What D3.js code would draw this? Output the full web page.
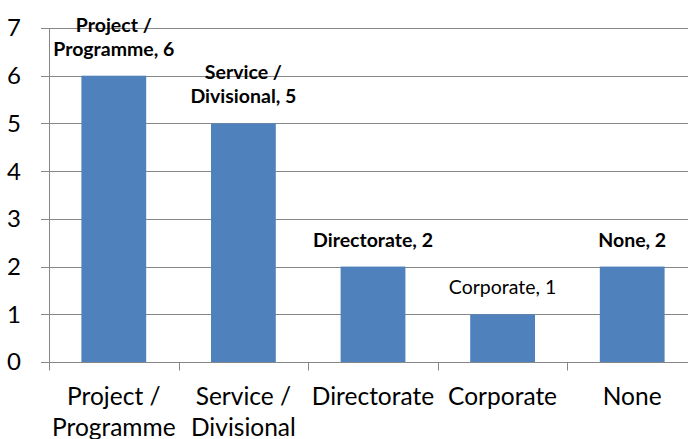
<!DOCTYPE html>
<html>
<head>
<meta charset="utf-8">
<script src="https://cdn.jsdelivr.net/npm/d3@7"></script>
<style>
  html, body { margin: 0; padding: 0; background: #fff; overflow: hidden; }
  text { font-family: Lato, "Open Sans", sans-serif; fill: #000; }
</style>
</head>
<body>
<script>
// chart data
const categories = ["Project / Programme", "Service / Divisional", "Directorate", "Corporate", "None"];
const counts = [6, 5, 2, 1, 2];
const yTicks = [0, 1, 2, 3, 4, 5, 6, 7];

(function() {
  const width = 688;
  const height = 439;
  const margin = {left: 49, right: -9, top: 28, bottom: 77};

  // labels drawn regular instead of bold
  const plainLabels = ["Corporate"];

  const svg = d3.select("body").append("svg")
    .attr("width", width)
    .attr("height", height);

  const x = d3.scaleBand()
    .domain(categories)
    .range([margin.left, width - margin.right])
    .paddingInner(0.5)
    .paddingOuter(0.25);

  const y = d3.scaleLinear()
    .domain([0, 7])
    .range([height - margin.bottom, margin.top]);

  const grey = "#868686";

  // gridlines
  svg.append("g")
    .selectAll("line")
    .data(yTicks)
    .enter()
    .append("line")
    .attr("x1", margin.left - 8)
    .attr("x2", width - margin.right)
    .attr("y1", d => Math.round(y(d)) + 0.5)
    .attr("y2", d => Math.round(y(d)) + 0.5)
    .attr("stroke", grey)
    .attr("stroke-width", 1);

  // y labels
  svg.append("g")
    .selectAll("text")
    .data(yTicks)
    .enter()
    .append("text")
    .attr("x", 21)
    .attr("y", d => y(d))
    .attr("dy", "0.35em")
    .attr("text-anchor", "end")
    .style("font-size", "24px")
    .text(d => d);

  // bars
  svg.append("g")
    .selectAll("rect")
    .data(categories)
    .enter()
    .append("rect")
    .attr("x", d => x(d))
    .attr("width", x.bandwidth())
    .attr("y", (d, i) => y(counts[i]))
    .attr("height", (d, i) => y(0) - y(counts[i]))
    .attr("fill", "#4F81BD");

  // y axis line
  const y0 = Math.round(y(0)) + 0.5;
  svg.append("line")
    .attr("x1", margin.left + 0.5)
    .attr("x2", margin.left + 0.5)
    .attr("y1", y(7))
    .attr("y2", y0)
    .attr("stroke", grey);

  // x axis line and ticks between categories
  svg.append("line")
    .attr("x1", margin.left - 8)
    .attr("x2", width - margin.right)
    .attr("y1", y0)
    .attr("y2", y0)
    .attr("stroke", grey);

  const step = x.step();
  const edges = d3.range(categories.length + 1).map(i => margin.left + i * step);
  svg.append("g")
    .selectAll("line")
    .data(edges)
    .enter()
    .append("line")
    .attr("x1", d => Math.round(d) + 0.5)
    .attr("x2", d => Math.round(d) + 0.5)
    .attr("y1", y0)
    .attr("y2", y0 + 8)
    .attr("stroke", grey);

  // category labels, wrapped after the slash
  const catLabels = svg.append("g")
    .selectAll("text")
    .data(categories)
    .enter()
    .append("text")
    .attr("text-anchor", "middle")
    .style("font-size", "24.5px");

  catLabels.each(function(d) {
    const lines = d.split(/(?<=\/) /);
    const t = d3.select(this);
    lines.forEach((line, k) => {
      t.append("tspan")
        .attr("x", x(d) + x.bandwidth() / 2)
        .attr("y", 405 + k * 31)
        .text(line);
    });
  });

  // data labels above bars
  const dataLabels = svg.append("g")
    .selectAll("text")
    .data(categories)
    .enter()
    .append("text")
    .attr("text-anchor", "middle")
    .style("font-size", "19.5px")
    .style("font-weight", d => plainLabels.includes(d) ? "normal" : "bold");

  dataLabels.each(function(d, i) {
    const lines = (d + ", " + counts[i]).split(/(?<=\/) /);
    const t = d3.select(this);
    const base = y(counts[i]) - 20;
    lines.forEach((line, k) => {
      t.append("tspan")
        .attr("x", x(d) + x.bandwidth() / 2)
        .attr("y", base - (lines.length - 1 - k) * 24)
        .text(line);
    });
  });
})();
</script>
</body>
</html>
